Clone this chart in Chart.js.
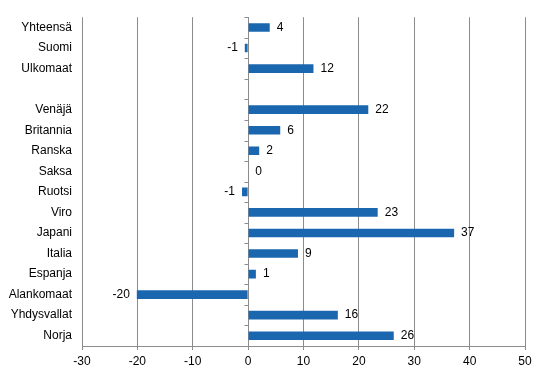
<!DOCTYPE html>
<html>
<head>
<meta charset="utf-8">
<script src="https://cdn.jsdelivr.net/npm/chart.js@4"></script>
<style>
    body { margin: 0; background: #ffffff; }
    #chart { display: block; }
</style>
</head>
<body>
<canvas id="chart" width="546" height="376"></canvas>
<script>
const categories = ["Yhteensä", "Suomi", "Ulkomaat", "", "Venäjä", "Britannia", "Ranska", "Saksa",
    "Ruotsi", "Viro", "Japani", "Italia", "Espanja", "Alankomaat", "Yhdysvallat", "Norja"];
const changes = [3.9, -0.6, 11.8, null, 21.7, 5.8, 2.0, 0.0, -1.1, 23.4, 37.2, 9.0, 1.4, -20.1, 16.2, 26.3];
const xTicks = [-30, -20, -10, 0, 10, 20, 30, 40, 50];

const BAR_COLOR = "#1a67b0";
const GRID_COLOR = "#8c8c8c";
const FONT = "'Liberation Sans', Arial, sans-serif";

// small tick marks along the zero line, at the category boundaries
const zeroAxisTicks = {
    id: "zeroAxisTicks",
    afterDraw(chart) {
        const ctx = chart.ctx;
        const x0 = Math.round(chart.scales.x.getPixelForValue(0)) + 0.5;
        const area = chart.chartArea;
        const step = (area.bottom - area.top) / categories.length;
        ctx.save();
        ctx.strokeStyle = GRID_COLOR;
        ctx.lineWidth = 1;
        ctx.beginPath();
        for (let i = 0; i <= categories.length; i++) {
            const y = Math.round(area.top + i * step) + 0.5;
            ctx.moveTo(x0 - 4, y);
            ctx.lineTo(x0, y);
        }
        ctx.stroke();
        ctx.restore();
    }
};

// value labels next to the end of each bar
const barLabels = {
    id: "barLabels",
    afterDatasetsDraw(chart) {
        const ctx = chart.ctx;
        const meta = chart.getDatasetMeta(0);
        ctx.save();
        ctx.font = "12px " + FONT;
        ctx.fillStyle = "#000000";
        ctx.textBaseline = "middle";
        meta.data.forEach((bar, i) => {
            const v = changes[i];
            if (v === null) return;
            const txt = String(Math.round(v));
            if (v < 0) {
                ctx.textAlign = "right";
                ctx.fillText(txt, bar.x - 7, bar.y);
            } else {
                ctx.textAlign = "left";
                ctx.fillText(txt, Math.max(bar.x, bar.base) + 7, bar.y);
            }
        });
        ctx.restore();
    }
};

new Chart(document.getElementById("chart"), {
    type: "bar",
    data: {
        labels: categories,
        datasets: [{
            data: changes,
            backgroundColor: BAR_COLOR,
            borderWidth: 0,
            barPercentage: 0.42,
            categoryPercentage: 1
        }]
    },
    options: {
        indexAxis: "y",
        responsive: false,
        animation: false,
        layout: {
            padding: { left: 0, right: 21, top: 14, bottom: 0 }
        },
        plugins: {
            legend: { display: false },
            tooltip: { enabled: false }
        },
        scales: {
            x: {
                min: -30,
                max: 50,
                afterBuildTicks(scale) {
                    scale.ticks = xTicks.map(v => ({ value: v }));
                },
                afterFit(scale) {
                    scale.height = 30;
                },
                grid: {
                    color: GRID_COLOR,
                    tickLength: 4,
                    tickColor: GRID_COLOR
                },
                border: { color: GRID_COLOR },
                ticks: {
                    color: "#000000",
                    padding: 4,
                    font: { family: FONT, size: 12 }
                }
            },
            y: {
                afterFit(scale) {
                    scale.width = 82;
                },
                grid: { display: false, drawTicks: false, tickLength: 0 },
                border: { display: false },
                ticks: {
                    color: "#000000",
                    padding: 10,
                    autoSkip: false,
                    font: { family: FONT, size: 12 }
                }
            }
        }
    },
    plugins: [zeroAxisTicks, barLabels]
});
</script>
</body>
</html>
